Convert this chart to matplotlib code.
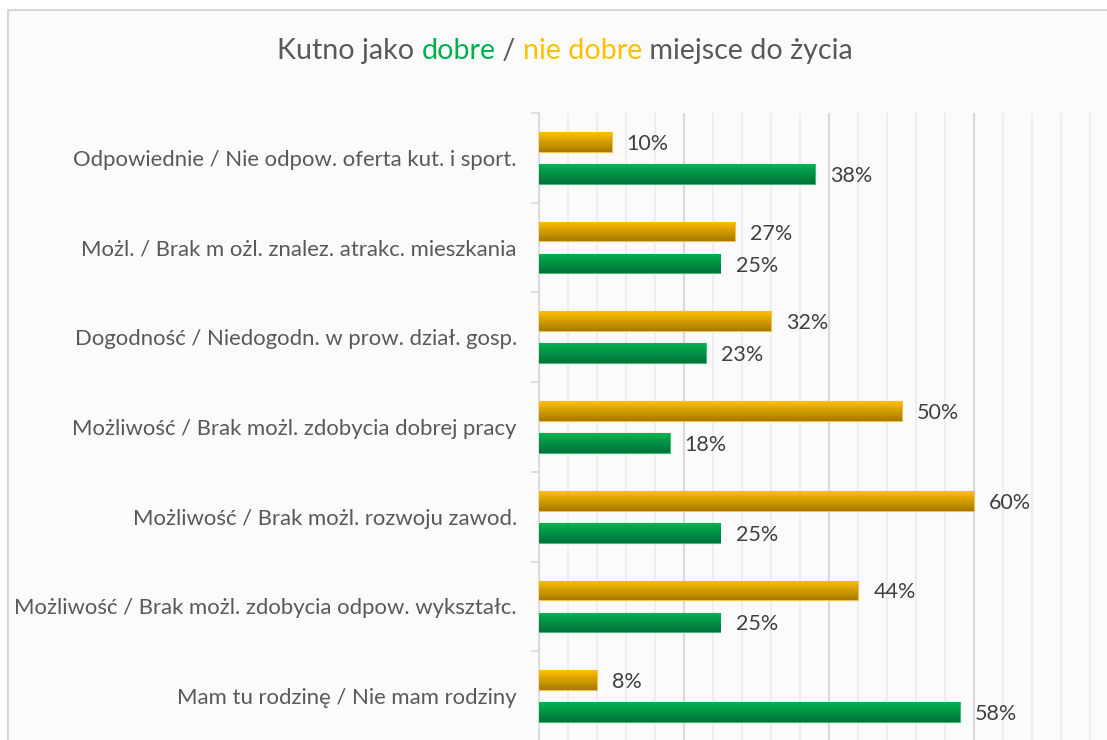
import numpy as np
import matplotlib.pyplot as plt
from matplotlib.colors import LinearSegmentedColormap
from matplotlib.patches import Rectangle
from matplotlib.ticker import MultipleLocator

categories = [
    "Odpowiednie / Nie odpow. oferta kut. i sport.",
    "Możl. / Brak m ożl. znalez. atrakc. mieszkania",
    "Dogodność / Niedogodn. w prow. dział. gosp.",
    "Możliwość / Brak możl. zdobycia dobrej pracy",
    "Możliwość / Brak możl. rozwoju zawod.",
    "Możliwość / Brak możl. zdobycia odpow. wykształc.",
    "Mam tu rodzinę / Nie mam rodziny",
]
nie_dobre = [10, 27, 32, 50, 60, 44, 8]
dobre = [38, 25, 23, 18, 25, 25, 58]

GRAY = '#595959'
GREEN = '#00B050'
ORANGE = '#FFC000'

plt.rcParams['font.family'] = ['Lato', 'DejaVu Sans']

W, H = 1107, 740
fig = plt.figure(figsize=(W / 100, H / 100), dpi=100)
fig.patch.set_facecolor('white')

# chart frame (right and bottom edge are cut off in the reference)
frame = Rectangle((8 / W, -0.1), 1.2, 1 - 10 / H + 0.1, transform=fig.transFigure,
                  facecolor='#fbfbfb', edgecolor='#d6d6d6', lw=1.5, zorder=-10)
fig.patches.append(frame)

ax = fig.add_axes([539 / W, 1 - 741 / H, 580 / W, 628 / H])
ax.set_facecolor('none')

y = np.arange(len(categories))
h = 0.22
off = 0.178

bars_n = ax.barh(y - off, nie_dobre, height=h, color=ORANGE, edgecolor='#f2c24a', lw=0.8, zorder=3)
bars_d = ax.barh(y + off, dobre, height=h, color=GREEN, edgecolor='#3fbf75', lw=0.8, zorder=3)


def gradient_fill(bars, top, bottom):
    cmap = LinearSegmentedColormap.from_list('g', [top, bottom])
    grad = np.linspace(0, 1, 64).reshape(-1, 1)
    for b in bars:
        x0, y0 = b.get_xy()
        im = ax.imshow(grad, cmap=cmap, aspect='auto', origin='upper',
                       extent=(x0, x0 + b.get_width(), y0 + b.get_height(), y0), zorder=3.5)
        im.set_clip_path(b)


gradient_fill(bars_n, '#FFC000', '#A77A00')
gradient_fill(bars_d, '#00B450', '#00703A')

for bars, vals in ((bars_n, nie_dobre), (bars_d, dobre)):
    for b, v in zip(bars, vals):
        ax.annotate(f'{v}%', (b.get_width(), b.get_y() + b.get_height() / 2),
                    xytext=(11, 0), textcoords='offset points', va='center_baseline', ha='left',
                    fontsize=15.5, color='#404040', zorder=5)

ax.set_xlim(0, 80)
ax.set_ylim(len(categories) - 0.5, -0.5)

ax.xaxis.set_major_locator(MultipleLocator(20))
ax.xaxis.set_minor_locator(MultipleLocator(4))
ax.grid(True, which='major', axis='x', color='#d9d9d9', lw=1.5, zorder=0)
ax.grid(True, which='minor', axis='x', color='#ececec', lw=1.2, zorder=0)
ax.tick_params(axis='x', which='both', length=0, labelbottom=False)

ax.set_yticks(np.arange(len(categories) + 1) - 0.5)
ax.set_yticklabels([])
ax.set_yticks(y, categories, minor=True)
ax.tick_params(axis='y', which='major', length=6, color='#d9d9d9', width=1.2)
ax.tick_params(axis='y', which='minor', length=0, pad=16, labelsize=15.9, labelcolor=GRAY)
for lbl in ax.get_yticklabels(minor=True):
    lbl.set_va('center_baseline')

for s in ('top', 'right', 'bottom'):
    ax.spines[s].set_visible(False)
ax.spines['left'].set_color('#d9d9d9')
ax.spines['left'].set_linewidth(1.2)

# title with coloured words
parts = [('Kutno jako ', GRAY), ('dobre', GREEN), (' / ', GRAY),
         ('nie dobre', ORANGE), (' miejsce do życia', GRAY)]
renderer = fig.canvas.get_renderer()
tsize = 20.6


def text_w(s):
    t = fig.text(0, 0, s + 'x', fontsize=tsize)
    tx = fig.text(0, 0, 'x', fontsize=tsize)
    w = t.get_window_extent(renderer).width - tx.get_window_extent(renderer).width
    t.remove()
    tx.remove()
    return w


full = ''.join(p for p, _ in parts)
total = text_w(full)
x = 565 - total / 2
prefix = ''
for s, c in parts:
    fig.text((x + text_w(prefix)) / W, 1 - 51 / H, s, fontsize=tsize, color=c,
             ha='left', va='center')
    prefix += s

fig.savefig('out.png', dpi=100, facecolor='white')
